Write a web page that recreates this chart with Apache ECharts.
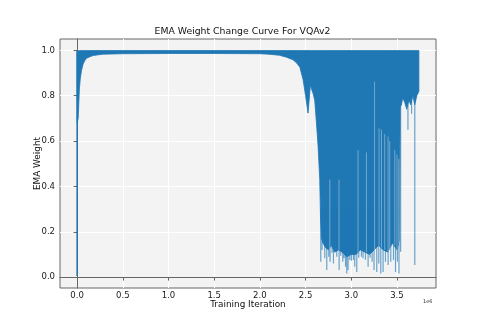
<!DOCTYPE html>
<html><head><meta charset="utf-8">
<script src="https://cdn.jsdelivr.net/npm/echarts@6/dist/echarts.min.js"></script>
<style>html,body{margin:0;padding:0;background:#fff}#c{width:485px;height:323px}</style>
</head><body><div id="c"></div><script>
// x values are in units of 1e6 training iterations
const xTicks = [0, 0.5, 1.0, 1.5, 2.0, 2.5, 3.0, 3.5];
const yTicks = [0.0, 0.2, 0.4, 0.6, 0.8, 1.0];

// envelope of the dense oscillation band
const bandX = [0, 0.012, 0.025, 0.035, 0.048, 0.066, 0.085, 0.103, 0.14, 0.175, 0.28, 0.5, 1.0, 1.5, 2.0, 2.1,
  2.216, 2.29, 2.363, 2.40, 2.437, 2.473, 2.50, 2.527, 2.553, 2.565, 2.582, 2.60, 2.619, 2.637, 2.655, 2.663,
  2.674, 2.69, 2.72, 2.75, 2.78, 2.82, 2.86, 2.90, 2.95, 3.00, 3.05, 3.10, 3.15, 3.20, 3.25, 3.30,
  3.35, 3.40, 3.45, 3.50, 3.525, 3.535, 3.549, 3.563, 3.585, 3.607, 3.63, 3.651, 3.673, 3.695, 3.717, 3.74];
const bandTop = [0.997, 0.998, 0.999, 0.999, 0.999, 0.999, 0.999, 0.999, 0.999, 0.999, 0.999, 0.999, 0.999, 0.999, 0.999, 0.999,
  0.999, 0.999, 0.999, 0.999, 0.999, 0.999, 0.999, 0.999, 0.999, 0.999, 0.999, 0.999, 0.999, 0.999, 0.999, 0.999,
  0.999, 0.999, 0.999, 0.999, 0.999, 0.999, 0.999, 0.999, 0.999, 0.999, 0.999, 0.999, 0.999, 0.999, 0.999, 0.999,
  0.999, 0.999, 0.999, 0.999, 0.999, 0.999, 0.999, 0.999, 0.999, 0.999, 0.999, 0.999, 0.999, 0.999, 0.999, 0.999];
const bandBottom = [0.68, 0.70, 0.83, 0.875, 0.91, 0.94, 0.955, 0.965, 0.972, 0.977, 0.983, 0.985, 0.986, 0.986, 0.985, 0.983,
  0.978, 0.97, 0.958, 0.945, 0.926, 0.87, 0.80, 0.723, 0.848, 0.83, 0.81, 0.78, 0.68, 0.575, 0.43, 0.27,
  0.17, 0.15, 0.13, 0.12, 0.14, 0.11, 0.12, 0.11, 0.09, 0.10, 0.10, 0.12, 0.11, 0.10, 0.12, 0.14,
  0.12, 0.11, 0.15, 0.12, 0.16, 0.75, 0.76, 0.79, 0.77, 0.74, 0.78, 0.76, 0.80, 0.76, 0.80, 0.82];

// individual deep dips (single line excursions)
const spikeX = [2.666, 2.681, 2.710, 2.732, 2.754, 2.768, 2.790, 2.805, 2.841, 2.867, 2.885, 2.907, 2.921, 2.937,
  2.951, 2.965, 2.984, 3.002, 3.024, 3.038, 3.060, 3.082, 3.111, 3.129, 3.155, 3.184, 3.206, 3.228, 3.249,
  3.279, 3.301, 3.323, 3.348, 3.374, 3.403, 3.432, 3.462, 3.484, 3.505, 3.522, 3.540, 3.620, 3.660, 3.695];
const spikeTop = [0.3, 0.3, 0.3, 0.3, 0.3, 0.3, 0.3, 0.3, 0.3, 0.3, 0.3, 0.3, 0.3, 0.3,
  0.3, 0.3, 0.3, 0.3, 0.3, 0.3, 0.3, 0.3, 0.3, 0.3, 0.3, 0.3, 0.3, 0.3, 0.3,
  0.3, 0.3, 0.3, 0.3, 0.3, 0.3, 0.3, 0.3, 0.3, 0.3, 0.3, 0.8, 0.8, 0.8, 0.8];
const spikeLow = [0.068, 0.12, 0.083, 0.031, 0.09, 0.068, 0.107, 0.06, 0.09, 0.031, 0.094, 0.068, 0.083, 0.046,
  0.016, 0.031, 0.075, 0.072, 0.075, 0.046, 0.023, 0.085, 0.09, 0.083, 0.077, 0.046, 0.085, 0.068, 0.031,
  0.023, 0.06, 0.016, 0.023, 0.068, 0.053, 0.068, 0.075, 0.023, 0.068, 0.016, 0.112, 0.65, 0.72, 0.053];

// first drop at iteration 0
const dropX = [0.0];
const dropTop = [0.999];
const dropLow = [0.005];

// thin openings inside the band
const gapX = [2.765, 2.866, 3.074, 3.166, 3.255, 3.304, 3.33, 3.366, 3.403, 3.421, 3.476, 3.50, 3.52];
const gapTop = [0.43, 0.43, 0.56, 0.55, 0.862, 0.656, 0.65, 0.63, 0.62, 0.60, 0.56, 0.54, 0.52];
const gapBottom = [0.12, 0.12, 0.11, 0.11, 0.12, 0.14, 0.13, 0.12, 0.11, 0.11, 0.14, 0.12, 0.15];

function segs(xs, a, b) {
  const out = [];
  xs.forEach((x, i) => { out.push([x, a[i]], [x, b[i]], [x, '-']); });
  return out;
}

const FONT = 'DejaVu Sans';
const chart = echarts.init(document.getElementById('c'), null, {renderer: 'canvas'});
chart.setOption({
  animation: false,
  backgroundColor: '#ffffff',
  title: [
    {text: 'EMA Weight Change Curve For VQAv2', left: 'center', top: 27, padding: [0, 0, 0, 15],
     textStyle: {fontFamily: FONT, fontSize: 9.3, fontWeight: 'normal', color: '#111'}},
    {text: '1e6', left: 423, top: 299, padding: 0,
     textStyle: {fontFamily: FONT, fontSize: 5, fontWeight: 'normal', color: '#333'}}
  ],
  grid: {left: 60, top: 39, width: 376, height: 249, show: true, backgroundColor: '#f3f3f3',
         borderColor: '#666', borderWidth: 1, containLabel: false},
  xAxis: {
    type: 'value', min: -0.187, max: 3.927,
    name: 'Training Iteration', nameLocation: 'middle', nameGap: 12, nameMoveOverlap: false,
    nameTextStyle: {fontFamily: FONT, fontSize: 8.9, color: '#111'},
    axisLine: {show: true, lineStyle: {color: '#666', width: 1}},
    axisTick: {show: true, inside: false, length: 3.5, customValues: xTicks, lineStyle: {color: '#666', width: 1}},
    axisLabel: {customValues: xTicks, margin: 3, fontFamily: FONT, fontSize: 8.5, color: '#1a1a1a',
      formatter: v => v.toFixed(1)},
    splitLine: {show: true, lineStyle: {color: '#ffffff', width: 1}}
  },
  yAxis: {
    type: 'value', min: -0.048, max: 1.05,
    name: 'EMA Weight', nameLocation: 'middle', nameGap: 18, nameRotate: 90, nameMoveOverlap: false,
    nameTextStyle: {fontFamily: FONT, fontSize: 8.9, color: '#111'},
    axisLine: {show: true, lineStyle: {color: '#666', width: 1}},
    axisTick: {show: true, inside: false, length: 3.5, customValues: yTicks, lineStyle: {color: '#666', width: 1}},
    axisLabel: {customValues: yTicks, margin: 5, fontFamily: FONT, fontSize: 8.5, color: '#1a1a1a',
      formatter: v => v.toFixed(1)},
    splitLine: {show: true, lineStyle: {color: '#ffffff', width: 1}}
  },
  series: [
    {type: 'line', name: 'dips', data: segs(spikeX, spikeTop, spikeLow), symbol: 'none', connectNulls: false,
     silent: true, lineStyle: {color: 'rgba(31,119,180,0.65)', width: 1.2}},
    {type: 'line', name: 'drop', data: segs(dropX, dropTop, dropLow), symbol: 'none', connectNulls: false,
     silent: true, lineStyle: {color: '#1f77b4', width: 1.4}},
    {type: 'custom', name: 'ema', silent: true, clip: true, data: [[bandX[0], bandTop[0]]],
     renderItem: function (params, api) {
       const pts = [];
       for (let i = 0; i < bandX.length; i++) pts.push(api.coord([bandX[i], bandTop[i]]));
       for (let i = bandX.length - 1; i >= 0; i--) pts.push(api.coord([bandX[i], bandBottom[i]]));
       return {type: 'polygon', shape: {points: pts},
               style: {fill: '#1f77b4', stroke: '#1f77b4', lineWidth: 0.8}};
     }},
    {type: 'line', name: 'gaps', data: segs(gapX, gapTop, gapBottom), symbol: 'none', connectNulls: false,
     silent: true, lineStyle: {color: 'rgba(243,243,243,0.4)', width: 1}}
  ]
});
</script></body></html>
